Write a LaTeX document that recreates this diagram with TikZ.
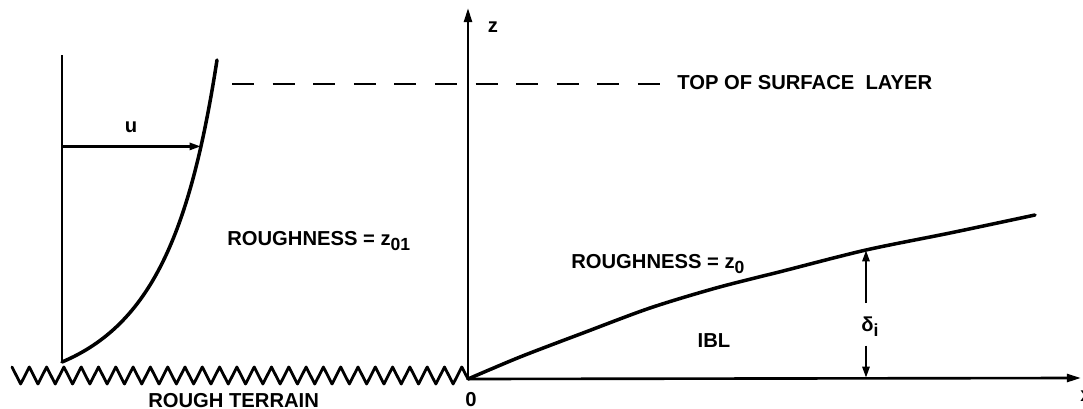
\documentclass[tikz,border=0pt]{standalone}
\usepackage{fontspec}
\setmainfont{Liberation Sans}
\usetikzlibrary{arrows.meta}
\newcommand\subtxt[1]{\raisebox{-0.5ex}{\fontsize{10}{12}\selectfont #1}}
\tikzset{
  lbl/.style={font=\fontsize{11.5}{13}\selectfont\bfseries, inner sep=0pt},
  axisline/.style={line width=1.5pt},
  curveline/.style={line width=2pt, line cap=round, line join=round},
  arr/.style={-{Triangle[length=8pt,width=4.5pt]}},
  smallarr/.style={-{Triangle[length=6.5pt,width=4pt]}},
  dashline/.style={line width=1.6pt, dash pattern=on 0.44cm off 0.372cm}
}
\begin{document}
\begin{tikzpicture}[x=0.02cm,y=-0.02cm]
\clip (0,0) rectangle (1083,409);
\fill[white] (0,0) rectangle (1083,409);
% key points
\coordinate (O) at (468,379);
\coordinate (ztip) at (468,8);
\coordinate (xtip) at (1081,378);
\coordinate (vtop) at (62,55);
\coordinate (vbot) at (62,362);
\coordinate (ptop) at (217,60);
\coordinate (dtop) at (866,250);
\coordinate (dbot) at (866,378);
\coordinate (dashA) at (232,84);
\coordinate (dashB) at (660,84);
% axes
\draw[axisline,arr] (O) -- (ztip);
\draw[axisline,arr] (O) -- (xtip);
% rough terrain zigzag
\draw[line width=1.6pt, line join=round, line cap=round] (12,367)
  \foreach \k in {0,...,25} { -- ({12+17.3*\k+8.65},384) -- ({12+17.3*(\k+1)},367) } -- (O);
% velocity profile
\draw[axisline] (vtop) -- (vbot);
\draw[curveline] (vbot) .. controls (150,325) and (190,235) .. coordinate[pos=0.82] (utip) (ptop);
\draw[axisline,smallarr] (vtop |- utip) -- (utip);
% top of surface layer
\draw[dashline] (dashA) -- (dashB);
% internal boundary layer
\draw[curveline] plot[smooth] coordinates {(O) (520,357) (583,333) (650,308) (716,288) (783,271) (dtop) (950,233) (1035,215)};
% labels
\node[lbl, anchor=base] (zl) at (493,32) {z};
\node[lbl, anchor=base] (ul) at (131,132) {u};
\node[lbl, anchor=base west] (top) at (677,90) {TOP OF SURFACE\ \ LAYER};
\node[lbl, anchor=base west] (r1) at (227,245) {ROUGHNESS = z\subtxt{01}};
\node[lbl, anchor=base west] (r0) at (571,268) {ROUGHNESS = z\subtxt{0}};
\node[lbl, anchor=base] (ibl) at (714,347) {IBL};
\node[lbl, anchor=base west] (dl) at (861,331) {δ\subtxt{i}};
\node[lbl, anchor=base west] (rt) at (148,407) {ROUGH TERRAIN};
\node[lbl, anchor=base] (ol) at (471,406) {0};
\node[lbl, anchor=base west] (xl) at (1080,401) {x};
% delta arrows
\draw[axisline,smallarr] (dl.north -| dtop) ++(0,-13) -- (dtop);
\draw[axisline,smallarr] (dl.south -| dbot) ++(0,9) -- (dbot);
\end{tikzpicture}
\end{document}
